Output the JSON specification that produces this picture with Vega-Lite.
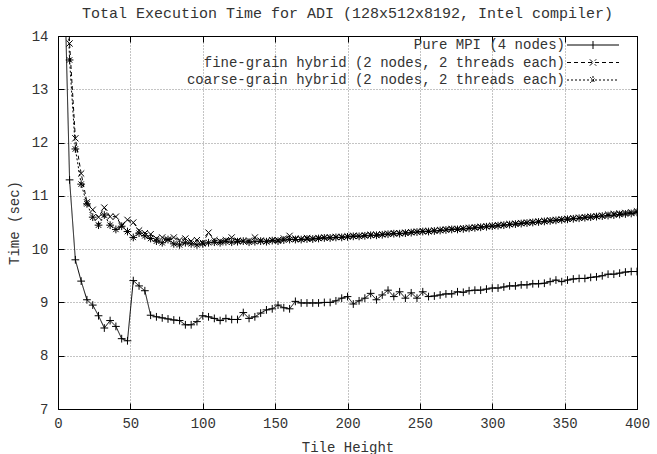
{
  "$schema": "https://vega.github.io/schema/vega-lite/v6.json",
  "width": 579,
  "height": 373,
  "autosize": {"type": "none"},
  "padding": {"left": 58, "top": 36, "right": 20, "bottom": 45},
  "background": "white",
  "title": {"text": "Total Execution Time for ADI (128x512x8192, Intel compiler)", "font": "Liberation Mono", "fontSize": 15, "fontWeight": "normal", "color": "#333", "offset": 8, "anchor": "middle"},
  "config": {
    "view": {"stroke": "black", "strokeWidth": 1},
    "axis": {"labelFont": "Liberation Mono", "labelFontSize": 14, "labelColor": "#333", "labelFlush": false, "titleFont": "Liberation Mono", "titleFontSize": 14, "titleFontWeight": "normal", "titleColor": "#333", "domainColor": "black", "tickColor": "black", "tickSize": -6, "gridDash": [1, 2], "gridColor": "#888", "gridOpacity": 1},
    "legend": {"labelFont": "Liberation Mono", "labelFontSize": 14, "labelColor": "#333"}
  },
  "data": {"values": [
    {"t":4,"mpi":15.6,"fine":17.0,"coarse":16.5},
    {"t":8,"mpi":11.3,"fine":13.86,"coarse":13.55},
    {"t":12,"mpi":9.8,"fine":12.08,"coarse":11.88},
    {"t":16,"mpi":9.4,"fine":11.42,"coarse":11.22},
    {"t":20,"mpi":9.05,"fine":10.88,"coarse":10.85},
    {"t":24,"mpi":8.95,"fine":10.74,"coarse":10.6},
    {"t":28,"mpi":8.75,"fine":10.6,"coarse":10.45},
    {"t":32,"mpi":8.52,"fine":10.78,"coarse":10.64},
    {"t":36,"mpi":8.66,"fine":10.61,"coarse":10.45},
    {"t":40,"mpi":8.55,"fine":10.61,"coarse":10.37},
    {"t":44,"mpi":8.32,"fine":10.45,"coarse":10.43},
    {"t":48,"mpi":8.28,"fine":10.55,"coarse":10.33},
    {"t":52,"mpi":9.41,"fine":10.5,"coarse":10.22},
    {"t":56,"mpi":9.31,"fine":10.35,"coarse":10.3},
    {"t":60,"mpi":9.22,"fine":10.3,"coarse":10.25},
    {"t":64,"mpi":8.76,"fine":10.28,"coarse":10.2},
    {"t":68,"mpi":8.73,"fine":10.2,"coarse":10.15},
    {"t":72,"mpi":8.71,"fine":10.22,"coarse":10.12},
    {"t":76,"mpi":8.69,"fine":10.18,"coarse":10.18},
    {"t":80,"mpi":8.67,"fine":10.22,"coarse":10.1},
    {"t":84,"mpi":8.66,"fine":10.17,"coarse":10.08},
    {"t":88,"mpi":8.58,"fine":10.2,"coarse":10.12},
    {"t":92,"mpi":8.58,"fine":10.15,"coarse":10.1},
    {"t":96,"mpi":8.64,"fine":10.17,"coarse":10.08},
    {"t":100,"mpi":8.75,"fine":10.12,"coarse":10.1},
    {"t":104,"mpi":8.73,"fine":10.31,"coarse":10.12},
    {"t":108,"mpi":8.7,"fine":10.17,"coarse":10.13},
    {"t":112,"mpi":8.66,"fine":10.15,"coarse":10.12},
    {"t":116,"mpi":8.7,"fine":10.17,"coarse":10.14},
    {"t":120,"mpi":8.68,"fine":10.22,"coarse":10.13},
    {"t":124,"mpi":8.68,"fine":10.16,"coarse":10.14},
    {"t":128,"mpi":8.81,"fine":10.15,"coarse":10.15},
    {"t":132,"mpi":8.7,"fine":10.16,"coarse":10.13},
    {"t":136,"mpi":8.73,"fine":10.22,"coarse":10.14},
    {"t":140,"mpi":8.8,"fine":10.16,"coarse":10.15},
    {"t":144,"mpi":8.86,"fine":10.15,"coarse":10.14},
    {"t":148,"mpi":8.88,"fine":10.17,"coarse":10.16},
    {"t":152,"mpi":8.95,"fine":10.17,"coarse":10.15},
    {"t":156,"mpi":8.9,"fine":10.2,"coarse":10.17},
    {"t":160,"mpi":8.88,"fine":10.25,"coarse":10.18},
    {"t":164,"mpi":9.02,"fine":10.2,"coarse":10.18},
    {"t":168,"mpi":8.99,"fine":10.19,"coarse":10.18},
    {"t":172,"mpi":8.99,"fine":10.21,"coarse":10.19},
    {"t":176,"mpi":8.99,"fine":10.2,"coarse":10.19},
    {"t":180,"mpi":8.99,"fine":10.21,"coarse":10.2},
    {"t":184,"mpi":9.0,"fine":10.22,"coarse":10.21},
    {"t":188,"mpi":9.0,"fine":10.22,"coarse":10.21},
    {"t":192,"mpi":9.03,"fine":10.23,"coarse":10.22},
    {"t":196,"mpi":9.08,"fine":10.23,"coarse":10.22},
    {"t":200,"mpi":9.11,"fine":10.24,"coarse":10.23},
    {"t":204,"mpi":8.97,"fine":10.25,"coarse":10.24},
    {"t":208,"mpi":9.03,"fine":10.25,"coarse":10.24},
    {"t":212,"mpi":9.08,"fine":10.26,"coarse":10.25},
    {"t":216,"mpi":9.17,"fine":10.27,"coarse":10.26},
    {"t":220,"mpi":9.05,"fine":10.27,"coarse":10.26},
    {"t":224,"mpi":9.14,"fine":10.28,"coarse":10.27},
    {"t":228,"mpi":9.23,"fine":10.29,"coarse":10.28},
    {"t":232,"mpi":9.11,"fine":10.3,"coarse":10.29},
    {"t":236,"mpi":9.2,"fine":10.3,"coarse":10.29},
    {"t":240,"mpi":9.08,"fine":10.31,"coarse":10.3},
    {"t":244,"mpi":9.18,"fine":10.32,"coarse":10.31},
    {"t":248,"mpi":9.08,"fine":10.33,"coarse":10.32},
    {"t":252,"mpi":9.2,"fine":10.34,"coarse":10.33},
    {"t":256,"mpi":9.11,"fine":10.34,"coarse":10.33},
    {"t":260,"mpi":9.12,"fine":10.35,"coarse":10.34},
    {"t":264,"mpi":9.14,"fine":10.36,"coarse":10.35},
    {"t":268,"mpi":9.16,"fine":10.37,"coarse":10.36},
    {"t":272,"mpi":9.16,"fine":10.38,"coarse":10.37},
    {"t":276,"mpi":9.2,"fine":10.38,"coarse":10.37},
    {"t":280,"mpi":9.19,"fine":10.39,"coarse":10.38},
    {"t":284,"mpi":9.22,"fine":10.4,"coarse":10.39},
    {"t":288,"mpi":9.23,"fine":10.41,"coarse":10.4},
    {"t":292,"mpi":9.23,"fine":10.42,"coarse":10.41},
    {"t":296,"mpi":9.25,"fine":10.43,"coarse":10.42},
    {"t":300,"mpi":9.27,"fine":10.44,"coarse":10.43},
    {"t":304,"mpi":9.27,"fine":10.45,"coarse":10.44},
    {"t":308,"mpi":9.29,"fine":10.46,"coarse":10.45},
    {"t":312,"mpi":9.31,"fine":10.47,"coarse":10.46},
    {"t":316,"mpi":9.31,"fine":10.48,"coarse":10.47},
    {"t":320,"mpi":9.33,"fine":10.49,"coarse":10.48},
    {"t":324,"mpi":9.33,"fine":10.5,"coarse":10.49},
    {"t":328,"mpi":9.35,"fine":10.51,"coarse":10.5},
    {"t":332,"mpi":9.35,"fine":10.52,"coarse":10.51},
    {"t":336,"mpi":9.36,"fine":10.53,"coarse":10.52},
    {"t":340,"mpi":9.39,"fine":10.54,"coarse":10.53},
    {"t":344,"mpi":9.42,"fine":10.55,"coarse":10.54},
    {"t":348,"mpi":9.39,"fine":10.56,"coarse":10.55},
    {"t":352,"mpi":9.42,"fine":10.57,"coarse":10.56},
    {"t":356,"mpi":9.44,"fine":10.58,"coarse":10.57},
    {"t":360,"mpi":9.45,"fine":10.59,"coarse":10.58},
    {"t":364,"mpi":9.45,"fine":10.6,"coarse":10.59},
    {"t":368,"mpi":9.47,"fine":10.61,"coarse":10.6},
    {"t":372,"mpi":9.48,"fine":10.62,"coarse":10.61},
    {"t":376,"mpi":9.5,"fine":10.63,"coarse":10.62},
    {"t":380,"mpi":9.53,"fine":10.65,"coarse":10.63},
    {"t":384,"mpi":9.53,"fine":10.66,"coarse":10.64},
    {"t":388,"mpi":9.55,"fine":10.67,"coarse":10.65},
    {"t":392,"mpi":9.57,"fine":10.68,"coarse":10.66},
    {"t":396,"mpi":9.58,"fine":10.69,"coarse":10.67},
    {"t":400,"mpi":9.58,"fine":10.71,"coarse":10.69}
  ]},
  "transform": [{"fold": ["mpi", "fine", "coarse"], "as": ["series", "time"]}],
  "resolve": {"axis": {"x": "independent", "y": "independent"}},
  "layer": [
    {
      "mark": {"type": "line", "clip": true, "color": "black", "strokeWidth": 1},
      "encoding": {
        "x": {"field": "t", "type": "quantitative", "scale": {"domain": [0, 400], "nice": false}, "axis": {"values": [0, 50, 100, 150, 200, 250, 300, 350, 400], "title": "Tile Height", "grid": true, "labelPadding": 13, "titlePadding": 10, "format": "d"}},
        "y": {"field": "time", "type": "quantitative", "scale": {"domain": [7, 14], "nice": false, "zero": false}, "axis": {"values": [7, 8, 9, 10, 11, 12, 13, 14], "title": "Time (sec)", "grid": true, "labelPadding": 16, "titlePadding": 10, "format": "d"}},
        "strokeDash": {"field": "series", "type": "nominal", "scale": {"domain": ["mpi", "fine", "coarse"], "range": [[1, 0], [4, 3], [2, 2]]}, "legend": {"orient": "none", "legendX": 494, "legendY": 2, "title": null, "labelExpr": "datum.value == 'mpi' ? 'Pure MPI (4 nodes)' : datum.value == 'fine' ? 'fine-grain hybrid (2 nodes, 2 threads each)' : 'coarse-grain hybrid (2 nodes, 2 threads each)'", "labelLimit": 600, "labelAlign": "right", "labelOffset": -35, "symbolOffset": 34, "symbolSize": 64, "symbolType": "M-6.5,0L6.5,0", "symbolStrokeColor": "black", "symbolStrokeWidth": 1, "rowPadding": 3.5, "padding": 0, "encode": {"symbols": {"update": {"shape": {"signal": "datum.value == 'mpi' ? 'M-6.5,0L6.5,0M0,-1L0,1' : datum.value == 'fine' ? 'M-6.5,0L6.5,0M-0.8,-0.8L0.8,0.8M-0.8,0.8L0.8,-0.8' : 'M-6.5,0L6.5,0M0,-1L0,1M-0.7,-0.7L0.7,0.7M-0.7,0.7L0.7,-0.7'"}}}}}}
      }
    },
    {
      "mark": {"type": "point", "clip": true, "color": "black", "filled": false, "size": 60, "strokeWidth": 1, "opacity": 1},
      "encoding": {
        "x": {"field": "t", "type": "quantitative", "scale": {"domain": [0, 400], "nice": false}, "axis": {"orient": "top", "values": [0, 50, 100, 150, 200, 250, 300, 350, 400], "labels": false, "title": null, "grid": false}},
        "y": {"field": "time", "type": "quantitative", "scale": {"domain": [7, 14], "nice": false, "zero": false}, "axis": {"orient": "right", "values": [7, 8, 9, 10, 11, 12, 13, 14], "labels": false, "title": null, "grid": false}},
        "shape": {"field": "series", "type": "nominal", "scale": {"domain": ["coarse", "fine", "mpi"], "range": ["M-1,0L1,0M0,-1L0,1M-0.7,-0.7L0.7,0.7M-0.7,0.7L0.7,-0.7", "M-0.8,-0.8L0.8,0.8M-0.8,0.8L0.8,-0.8", "M-1,0L1,0M0,-1L0,1"]}, "legend": null}
      }
    }
  ]
}
